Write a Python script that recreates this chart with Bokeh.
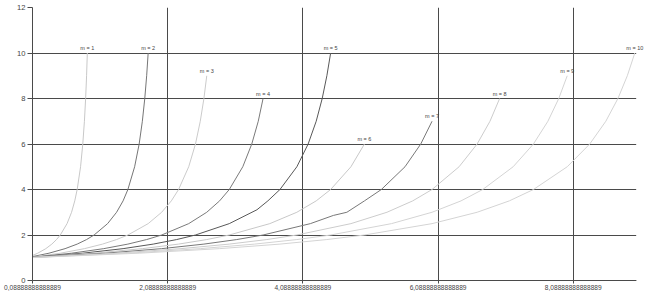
from bokeh.plotting import figure
from bokeh.models import Range1d, FixedTicker, Label, BoxAnnotation
from bokeh.embed import file_html
from bokeh.resources import INLINE

# ---- data ----
m_values = [1, 2, 3, 4, 5, 6, 7, 8, 9, 10]

x1 = [0.089, 0.167, 0.286, 0.375, 0.444, 0.5, 0.6, 0.667, 0.714, 0.75, 0.8, 0.833, 0.857, 0.875, 0.889, 0.9]
y1 = [1.10, 1.2, 1.4, 1.6, 1.8, 2.0, 2.5, 3.0, 3.5, 4.0, 5.0, 6.0, 7.0, 8.0, 9.0, 10.0]

x2 = [0.089, 0.333, 0.571, 0.75, 0.889, 1.0, 1.2, 1.333, 1.429, 1.5, 1.6, 1.667, 1.714, 1.75, 1.778, 1.8]
y2 = [1.05, 1.2, 1.4, 1.6, 1.8, 2.0, 2.5, 3.0, 3.5, 4.0, 5.0, 6.0, 7.0, 8.0, 9.0, 10.0]

x3 = [0.089, 0.5, 0.857, 1.125, 1.333, 1.5, 1.8, 2.0, 2.143, 2.25, 2.4, 2.5, 2.571, 2.625, 2.667]
y3 = [1.03, 1.2, 1.4, 1.6, 1.8, 2.0, 2.5, 3.0, 3.5, 4.0, 5.0, 6.0, 7.0, 8.0, 9.0]

x4 = [0.089, 0.667, 1.143, 1.5, 1.778, 2.0, 2.4, 2.667, 2.857, 3.0, 3.2, 3.333, 3.429, 3.5]
y4 = [1.02, 1.2, 1.4, 1.6, 1.8, 2.0, 2.5, 3.0, 3.5, 4.0, 5.0, 6.0, 7.0, 8.0]

x5 = [0.089, 0.833, 1.429, 1.875, 2.222, 2.5, 3.0, 3.41, 3.571, 3.75, 4.0, 4.167, 4.286, 4.375, 4.444, 4.5]
y5 = [1.02, 1.2, 1.4, 1.6, 1.8, 2.0, 2.5, 3.11, 3.5, 4.0, 5.0, 6.0, 7.0, 8.0, 9.0, 10.0]

x6 = [0.089, 1.0, 1.714, 2.25, 2.667, 3.0, 3.6, 4.0, 4.286, 4.5, 4.8, 5.0]
y6 = [1.015, 1.2, 1.4, 1.6, 1.8, 2.0, 2.5, 3.0, 3.5, 4.0, 5.0, 6.0]

x7 = [0.089, 1.167, 2.0, 2.625, 3.111, 3.5, 4.2, 4.54, 4.74, 5.0, 5.25, 5.6, 5.833, 6.0]
y7 = [1.013, 1.2, 1.4, 1.6, 1.8, 2.0, 2.5, 2.86, 3.0, 3.5, 4.0, 5.0, 6.0, 7.0]

x8 = [0.089, 1.333, 2.286, 3.0, 3.556, 4.0, 4.8, 5.333, 5.714, 6.0, 6.4, 6.667, 6.857, 7.0]
y8 = [1.011, 1.2, 1.4, 1.6, 1.8, 2.0, 2.5, 3.0, 3.5, 4.0, 5.0, 6.0, 7.0, 8.0]

x9 = [0.089, 1.5, 2.571, 3.375, 4.0, 4.5, 5.4, 6.0, 6.429, 6.75, 7.2, 7.5, 7.714, 7.875, 8.0]
y9 = [1.010, 1.2, 1.4, 1.6, 1.8, 2.0, 2.5, 3.0, 3.5, 4.0, 5.0, 6.0, 7.0, 8.0, 9.0]

x10 = [0.089, 1.667, 2.857, 3.75, 4.444, 5.0, 6.0, 6.667, 7.143, 7.5, 8.0, 8.333, 8.571, 8.75, 8.889, 9.0]
y10 = [1.009, 1.2, 1.4, 1.6, 1.8, 2.0, 2.5, 3.0, 3.5, 4.0, 5.0, 6.0, 7.0, 8.0, 9.0, 10.0]

series_x = [x1, x2, x3, x4, x5, x6, x7, x8, x9, x10]
series_y = [y1, y2, y3, y4, y5, y6, y7, y8, y9, y10]
series_labels = ["m = %d" % m for m in m_values]

x_ticks = [0.0888888888888889, 2.0888888888888889, 4.0888888888888889, 6.0888888888888889, 8.0888888888888889]
x_tick_labels = ["0,08888888888889", "2,08888888888889", "4,08888888888889", "6,08888888888889", "8,08888888888889"]
y_ticks = [0, 2, 4, 6, 8, 10, 12]

# axis extent (the plotted area ends here; a little extra room is left for the last label)
x_min, x_max = 0.0888888888888889, 9.02
x_view_max = 9.158

# ---- styling ----
line_colors = ["#c8c8c8", "#767676", "#cbcbcb", "#7a7a7a", "#585858",
               "#c8c8c8", "#787878", "#cccccc", "#d4d4d4", "#d4d4d4"]
grid_color = "#4a4a4a"
text_color = "#444444"
font = "Liberation Sans"

p = figure(width=645, height=295, output_backend="svg", toolbar_location=None,
           x_range=Range1d(x_min, x_view_max), y_range=Range1d(0, 12),
           min_border_left=32, min_border_right=0, min_border_top=7, min_border_bottom=15)
p.outline_line_color = None
p.background_fill_color = "white"
p.border_fill_color = "white"

p.xaxis.ticker = FixedTicker(ticks=x_ticks)
p.xaxis.major_label_overrides = {t: s for t, s in zip(x_ticks, x_tick_labels)}
p.xaxis.bounds = (x_min, x_max)
p.yaxis.ticker = FixedTicker(ticks=y_ticks)

for ax in (p.xaxis[0], p.yaxis[0]):
    ax.axis_line_color = grid_color
    ax.major_tick_line_color = grid_color
    ax.minor_tick_line_color = None
    ax.major_tick_in = 0
    ax.major_label_text_color = text_color
    ax.major_label_text_font = font
p.xaxis.major_tick_out = 3
p.xaxis.major_label_standoff = 1
p.xaxis.major_label_text_font_size = "6.6px"
p.yaxis.major_tick_out = 5
p.yaxis.major_label_standoff = 2
p.yaxis.major_label_text_font_size = "7.6px"

p.xgrid.ticker = FixedTicker(ticks=x_ticks)
p.ygrid.ticker = FixedTicker(ticks=y_ticks)
p.grid.grid_line_color = grid_color
p.grid.grid_line_width = 1

for xs, ys, c in zip(series_x, series_y, line_colors):
    p.line(xs, ys, line_color=c, line_width=1)

# blank margin to the right of the axis end (grid lines stop at the axis end)
p.add_layout(BoxAnnotation(left=x_max, fill_color="white", fill_alpha=1.0,
                           line_color=None, line_alpha=0))

for xs, ys, t in zip(series_x, series_y, series_labels):
    p.add_layout(Label(x=xs[-1], y=ys[-1], text=t, text_align="center",
                       text_baseline="bottom", y_offset=2, text_font=font,
                       text_font_size="5.5px", text_color=text_color))

open("out.html", "w").write(file_html(p, INLINE))
